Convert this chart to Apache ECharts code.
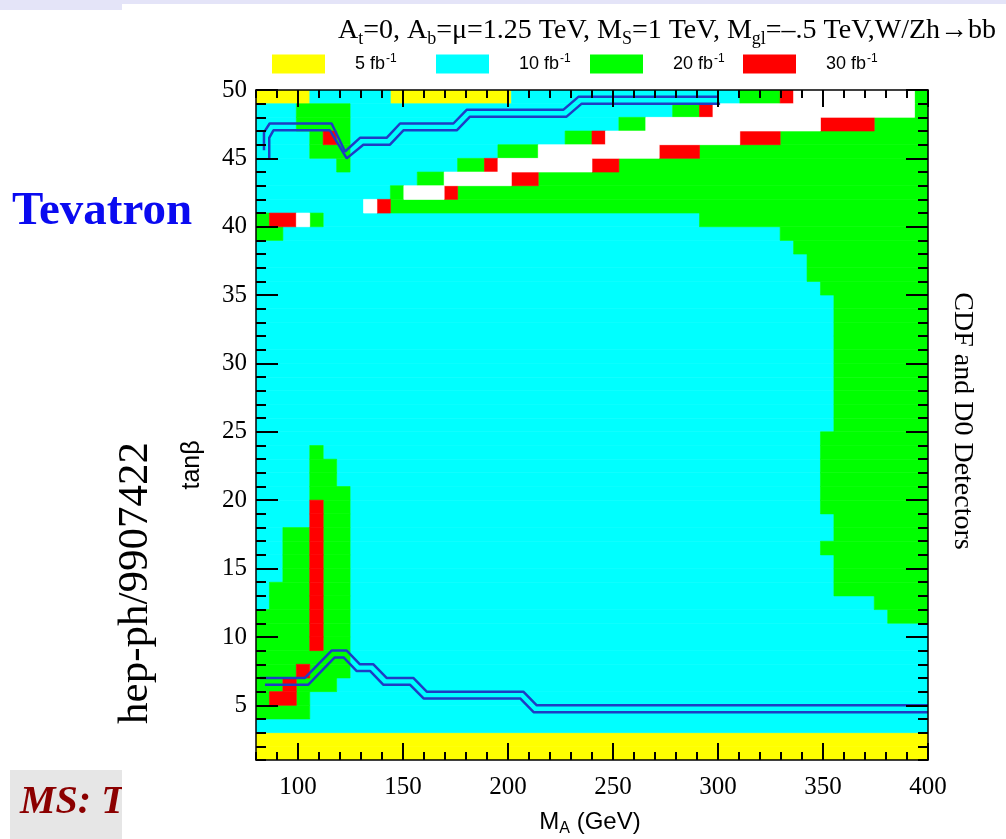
<!DOCTYPE html>
<html>
<head>
<meta charset="utf-8">
<script src="https://cdn.jsdelivr.net/npm/echarts@6/dist/echarts.min.js"></script>
<style>
html,body{margin:0;padding:0;background:#fff;}
#chart{width:1006px;height:839px;}
</style>
</head>
<body>
<div id="chart"></div>
<script>
// ---------------- data ----------------
const maMin = 80, maMax = 400, maBinWidth = 6.4;     // M_A bins (GeV)
const tanbMin = 1, tanbMax = 50, tanbBinHeight = 1;  // tan(beta) bins

const xMajorTicks = [100,150,200,250,300,350,400];
const xMinorTicks = [80,90,100,110,120,130,140,150,160,170,180,190,200,210,220,230,240,250,260,270,280,290,300,310,320,330,340,350,360,370,380,390,400];
const yMajorTicks = [5,10,15,20,25,30,35,40,45,50];
const yMinorTicks = [1,2,3,4,5,6,7,8,9,10,11,12,13,14,15,16,17,18,19,20,21,22,23,24,25,26,27,28,29,30,31,32,33,34,35,36,37,38,39,40,41,42,43,44,45,46,47,48,49,50];

// luminosity level codes: Y=5, C=10, G=20, R=30 fb^-1, W=not reached
const levelCodes  = ['Y','C','G','R','W'];
const levelLabels = ['5 fb⁻¹','10 fb⁻¹','20 fb⁻¹','30 fb⁻¹','none'];

// one run-length string per tan(beta) row, from the top row (49-50) down to (1-2);
// each token = level code + number of 6.4 GeV bins, from M_A = 80 upward
const cellRows = [
  'Y4 C6 Y9 C17 G3 R1 W9 G1',
  'C3 G4 C24 G2 R1 W15 G1',
  'C3 G4 C20 G2 W13 R4 G4',
  'C4 G1 R1 G1 C16 G2 R1 W10 R3 G11',
  'C4 G3 C11 G3 W9 R3 G17',
  'C6 G1 C8 G2 R1 W7 R2 G23',
  'C12 G2 W5 R2 G29',
  'C10 G1 W3 R1 G35',
  'C8 W1 R1 G40',
  'G1 R2 W1 G1 C28 G17',
  'G2 C37 G11',
  'C40 G10',
  'C41 G9',
  'C41 G9',
  'C42 G8',
  'C43 G7','C43 G7','C43 G7','C43 G7','C43 G7','C43 G7','C43 G7','C43 G7','C43 G7','C43 G7',
  'C42 G8',
  'C4 G1 C37 G8',
  'C4 G2 C36 G8',
  'C4 G2 C36 G8',
  'C4 G3 C35 G8',
  'C4 R1 G2 C35 G8',
  'C4 R1 G2 C36 G7',
  'C2 G2 R1 G2 C36 G7',
  'C2 G2 R1 G2 C35 G8',
  'C2 G2 R1 G2 C36 G7',
  'C2 G2 R1 G2 C36 G7',
  'C1 G3 R1 G2 C36 G7',
  'C1 G3 R1 G2 C39 G4',
  'G4 R1 G2 C40 G3',
  'G4 R1 G2 C43',
  'G4 R1 G2 C43',
  'G7 C43',
  'G3 R1 G3 C43',
  'G2 R1 G3 C44',
  'G1 R2 G1 C46',
  'G4 C46',
  'C50',
  'Y50',
  'Y50'
];

// double contour lines (M_A, tan beta)
const upperContourOuter = [[83.8,45.6],[83.8,46.9],[86.5,47.55],[116,47.55],[122.4,45.5],[129.5,46.5],[142.2,46.5],[148.6,47.55],[174,47.55],[180.3,48.55],[226.3,48.55],[233.5,49.5],[300,49.5]];
const upperContourInner = [[86.3,45.0],[86.3,46.5],[88.3,47.05],[115.2,47.05],[123.2,45.0],[131.1,46.0],[143.8,46.0],[150.2,47.05],[175.6,47.05],[181.9,48.05],[227.9,48.05],[235.1,49.0],[301,49.0]];
const lowerContourUpper = [[81.9,7.0],[103.3,7.0],[116,9.0],[123.2,9.0],[129.5,8.0],[135.9,8.0],[142.2,7.0],[154.9,7.0],[161.3,6.0],[207.3,6.0],[213.7,5.0],[400,5.0]];
const lowerContourLower = [[84.3,6.5],[104.8,6.5],[117.5,8.5],[121.7,8.5],[128,7.5],[134.4,7.5],[140.7,6.5],[153.4,6.5],[159.8,5.5],[205.8,5.5],[212.2,4.5],[400,4.5]];

// ---------------- styles ----------------
const levelColors = {Y:'#ffff00', C:'#00ffff', G:'#00ff00', R:'#ff0000', W:'#ffffff'};
const legendLefts = [272, 436, 590, 743];
const contourColor = '#1f3cc4';
const SERIF = '"Liberation Serif", "Times New Roman", serif';
const SANS = '"Liberation Sans", Arial, sans-serif';

// ---------------- build cells ----------------
const cellsByLevel = {};
levelCodes.forEach(c => cellsByLevel[c] = []);
cellRows.forEach((rle, i) => {
  const hi = tanbMax - i * tanbBinHeight, lo = hi - tanbBinHeight;
  let k = 0;
  rle.trim().split(/\s+/).forEach(tok => {
    const code = tok[0], n = parseInt(tok.slice(1), 10);
    cellsByLevel[code].push([maMin + k * maBinWidth, maMin + (k + n) * maBinWidth, lo, hi]);
    k += n;
  });
});

function renderCell(params, api) {
  const tl = api.coord([api.value(0), api.value(3)]);
  const br = api.coord([api.value(1), api.value(2)]);
  const color = api.visual('color');
  return {
    type: 'rect',
    shape: {x: tl[0], y: tl[1], width: br[0] - tl[0], height: br[1] - tl[1]},
    style: {fill: color, stroke: color, lineWidth: 0.6}
  };
}

const cellSeries = levelCodes.map((code, i) => ({
  type: 'custom', name: levelLabels[i], renderItem: renderCell,
  data: cellsByLevel[code], encode: {x: [0, 1], y: [2, 3]},
  itemStyle: {color: levelColors[code]}, clip: true, silent: true, z: 2
}));

const lineSeries = [upperContourOuter, upperContourInner, lowerContourUpper, lowerContourLower].map(d => ({
  type: 'line', data: d, symbol: 'none', silent: true, z: 3, clip: true,
  lineStyle: {color: contourColor, width: 2.5}
}));

const tickLine = {color: '#000', width: 2};
function xAxisDef(pos, major, showLabel) {
  return {
    type: 'value', min: maMin, max: maMax, position: pos, z: 10,
    splitLine: {show: false},
    axisLine: {show: major, onZero: false, lineStyle: {color: '#000', width: 1.5}},
    axisTick: {show: true, inside: true, length: major ? 17 : 8, customValues: major ? xMajorTicks : xMinorTicks, lineStyle: tickLine},
    axisLabel: showLabel ? {show: true, customValues: xMajorTicks, fontFamily: SERIF, fontSize: 25, color: '#000', margin: 15} : {show: false}
  };
}
function yAxisDef(pos, major, showLabel) {
  return {
    type: 'value', min: tanbMin, max: tanbMax, position: pos, z: 10,
    splitLine: {show: false},
    axisLine: {show: major, onZero: false, lineStyle: {color: '#000', width: 1.5}},
    axisTick: {show: true, inside: true, length: major ? 22 : 10, customValues: major ? yMajorTicks : yMinorTicks, lineStyle: tickLine},
    axisLabel: showLabel ? {show: true, customValues: yMajorTicks, fontFamily: SERIF, fontSize: 25, color: '#000', margin: 9} : {show: false}
  };
}

const legends = levelLabels.slice(0, 4).map((name, i) => ({
  data: [name], left: legendLefts[i], top: 53, orient: 'horizontal', padding: 0,
  itemWidth: 53, itemHeight: 19, icon: 'rect', selectedMode: false,
  formatter: n => '{n|' + n.replace('⁻¹', '') + '}{s|-1}',
  textStyle: {rich: {
    n: {fontFamily: SANS, fontSize: 18, color: '#000', padding: [0, 0, 0, 25]},
    s: {fontFamily: SANS, fontSize: 12, color: '#000', padding: [0, 0, 10, 1]}
  }}
}));

const chart = echarts.init(document.getElementById('chart'), null, {renderer: 'canvas'});
chart.setOption({
  animation: false,
  backgroundColor: '#ffffff',
  title: {
    text: '{n|A}{s|t}{n|=0, A}{s|b}{n|=μ=1.25 TeV, M}{s|S}{n|=1 TeV, M}{s|gl}{n|=–.5 TeV,W/Zh→bb}',
    left: 333, top: 8,
    textStyle: {fontWeight: 'normal', rich: {
      n: {fontFamily: SERIF, fontSize: 28, fontWeight: 'normal', color: '#000'},
      s: {fontFamily: SERIF, fontSize: 18, fontWeight: 'normal', color: '#000', padding: [17, 0, 0, 0]}
    }}
  },
  legend: legends,
  grid: {left: 256, right: 78, top: 90, bottom: 79, show: false},
  xAxis: [xAxisDef('bottom', true, true), xAxisDef('bottom', false, false), xAxisDef('top', true, false), xAxisDef('top', false, false)],
  yAxis: [yAxisDef('left', true, true), yAxisDef('left', false, false), yAxisDef('right', true, false), yAxisDef('right', false, false)],
  series: cellSeries.concat(lineSeries),
  graphic: [
    {type: 'rect', shape: {x: 0, y: 0, width: 1006, height: 4}, style: {fill: '#e4e4f8'}, silent: true},
    {type: 'rect', shape: {x: 0, y: 0, width: 122, height: 10}, style: {fill: '#e4e4f8'}, silent: true},
    {type: 'text', x: 102, y: 212, silent: true,
     style: {text: 'Tevatron', font: 'bold 47px ' + SERIF, fill: '#0a0af0', align: 'center', verticalAlign: 'middle', textAlign: 'center', textVerticalAlign: 'middle'}},
    {type: 'text', x: 136, y: 583, rotation: Math.PI / 2, silent: true,
     style: {text: 'hep-ph/9907422', font: '43px ' + SERIF, fill: '#000', align: 'center', verticalAlign: 'middle', textAlign: 'center', textVerticalAlign: 'middle'}},
    {type: 'text', x: 192, y: 465, rotation: Math.PI / 2, silent: true,
     style: {text: 'tanβ', font: '25px ' + SANS, fill: '#000', align: 'center', verticalAlign: 'middle', textAlign: 'center', textVerticalAlign: 'middle'}},
    {type: 'text', x: 962, y: 421, rotation: -Math.PI / 2, silent: true,
     style: {text: 'CDF and D0 Detectors', font: '28px ' + SERIF, fill: '#000', align: 'center', verticalAlign: 'middle', textAlign: 'center', textVerticalAlign: 'middle'}},
    {type: 'text', x: 590, y: 822, silent: true,
     style: {text: '{n|M}{s|A}{n| (GeV)}', align: 'center', verticalAlign: 'middle', textAlign: 'center', textVerticalAlign: 'middle',
       rich: {n: {fontFamily: SANS, fontSize: 24, fill: '#000', color: '#000'}, s: {fontFamily: SANS, fontSize: 16, fill: '#000', color: '#000', padding: [14, 0, 0, 0]}}}},
    {type: 'rect', shape: {x: 10, y: 770, width: 112, height: 69}, style: {fill: '#e6e6e6'}, silent: true},
    {type: 'text', x: 20, y: 823, silent: true,
     style: {text: 'MS: T', font: 'italic bold 40px ' + SERIF, fill: '#8b0000', align: 'left', verticalAlign: 'alphabetic', textAlign: 'left', textVerticalAlign: 'bottom'}},
    {type: 'rect', shape: {x: 122, y: 766, width: 130, height: 73}, style: {fill: '#ffffff'}, silent: true}
  ]
});
</script>
</body>
</html>
